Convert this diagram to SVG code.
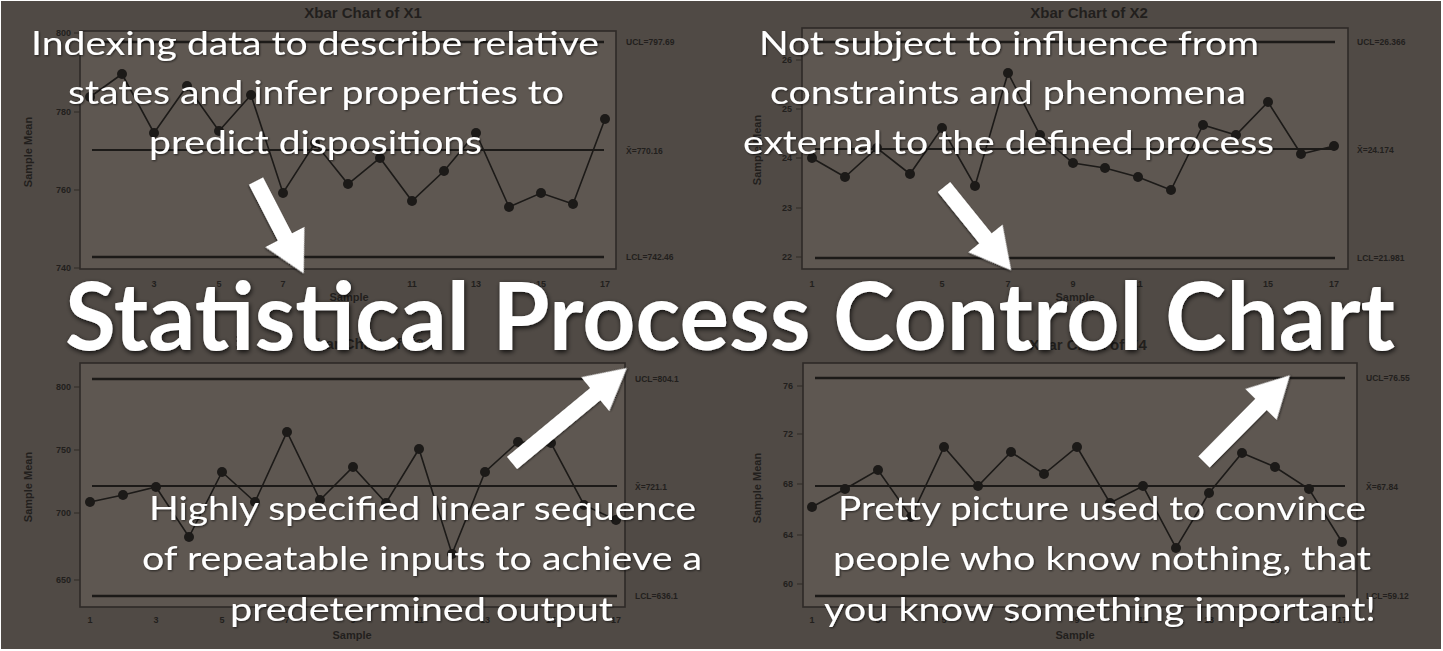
<svg xmlns="http://www.w3.org/2000/svg" width="1443" height="651" viewBox="0 0 1443 651">
<style>
.bg{fill:#504a45}
.plot{fill:#5e5751;stroke:#2e2a27;stroke-width:1.6}
.lim{stroke:#1c1a18;stroke-width:2.4;fill:none}
.data{stroke:#1c1a18;stroke-width:1.6;fill:none}
.pt{fill:#1c1a18}
.tick{stroke:#2e2a27;stroke-width:1.2}
.ct{font-family:"Liberation Sans",Arial,sans-serif;fill:#221f1d;font-weight:bold}
.ctitle{font-size:15px;text-anchor:middle}
.tl{font-size:9px;text-anchor:end}
.xl{font-size:9px;text-anchor:middle}
.rl{font-size:8.5px}
.al{font-size:11px;text-anchor:middle}
.sub{font-family:Lato,"Open Sans",sans-serif;font-size:33px;fill:#ffffff;filter:url(#sh)}
.main{font-family:Lato,"Open Sans",sans-serif;font-size:94px;font-weight:bold;fill:#ffffff;filter:url(#sh2)}
.arrow{fill:#ffffff;filter:url(#sh)}
</style>
<defs>
<filter id="sh" x="-10%" y="-20%" width="120%" height="140%">
<feGaussianBlur in="SourceAlpha" stdDeviation="1.2"/>
<feOffset dx="1" dy="1"/>
<feComponentTransfer><feFuncA type="linear" slope="0.6"/></feComponentTransfer>
<feMerge><feMergeNode/><feMergeNode in="SourceGraphic"/></feMerge>
</filter>
<filter id="sh2" x="-5%" y="-20%" width="110%" height="140%">
<feGaussianBlur in="SourceAlpha" stdDeviation="2.5"/>
<feOffset dx="1" dy="2"/>
<feComponentTransfer><feFuncA type="linear" slope="0.8"/></feComponentTransfer>
<feMerge><feMergeNode/><feMergeNode in="SourceGraphic"/></feMerge>
</filter>
</defs>
<rect x="0" y="0" width="1443" height="651" fill="#ffffff"/>
<rect class="bg" x="1" y="1" width="1440" height="648"/>

<g id="chart-x1">
<text class="ct ctitle" x="363" y="18">Xbar Chart of X1</text>
<rect class="plot" x="80" y="31" width="536" height="238"/>
<line class="lim" x1="92" y1="42" x2="604" y2="42"/>
<line class="lim" x1="92" y1="150" x2="604" y2="150" style="stroke-width:1.8"/>
<line class="lim" x1="92" y1="257" x2="604" y2="257"/>
<polyline class="data" points="90,97 122,74 154,133 187,86 219,131 251,95 283,193 315,143 348,184 380,158 412,201 444,171 476,133 509,207 541,193 573,204 605,119"/>
<g class="pt"><circle cx="90" cy="97" r="5"/><circle cx="122" cy="74" r="5"/><circle cx="154" cy="133" r="5"/><circle cx="187" cy="86" r="5"/><circle cx="219" cy="131" r="5"/><circle cx="251" cy="95" r="5"/><circle cx="283" cy="193" r="5"/><circle cx="315" cy="143" r="5"/><circle cx="348" cy="184" r="5"/><circle cx="380" cy="158" r="5"/><circle cx="412" cy="201" r="5"/><circle cx="444" cy="171" r="5"/><circle cx="476" cy="133" r="5"/><circle cx="509" cy="207" r="5"/><circle cx="541" cy="193" r="5"/><circle cx="573" cy="204" r="5"/><circle cx="605" cy="119" r="5"/></g>
<path class="tick" d="M74 33H80M74 112H80M74 190H80M74 268H80"/>
<text class="ct tl" x="71" y="36">800</text><text class="ct tl" x="71" y="115">780</text><text class="ct tl" x="71" y="193">760</text><text class="ct tl" x="71" y="271">740</text>
<text class="ct xl" y="287"><tspan x="90">1</tspan><tspan x="154">3</tspan><tspan x="219">5</tspan><tspan x="283">7</tspan><tspan x="348">9</tspan><tspan x="412">11</tspan><tspan x="476">13</tspan><tspan x="541">15</tspan><tspan x="605">17</tspan></text>
<text class="ct al" x="349" y="301">Sample</text>
<text class="ct al" transform="translate(32,152) rotate(-90)">Sample Mean</text>
<text class="ct rl" x="626" y="45">UCL=797.69</text><text class="ct rl" x="626" y="154">X̄=770.16</text><text class="ct rl" x="626" y="260">LCL=742.46</text>
</g>

<g id="chart-x2">
<text class="ct ctitle" x="1089" y="18">Xbar Chart of X2</text>
<rect class="plot" x="802" y="28" width="546" height="241"/>
<line class="lim" x1="815" y1="42" x2="1335" y2="42"/>
<line class="lim" x1="815" y1="149" x2="1335" y2="149" style="stroke-width:1.8"/>
<line class="lim" x1="815" y1="258" x2="1335" y2="258"/>
<polyline class="data" points="812,158 845,177 877,148 910,174 942,128 975,186 1008,73 1040,135 1073,163 1105,168 1138,177 1171,190 1203,125 1236,135 1268,102 1301,154 1334,146"/>
<g class="pt"><circle cx="812" cy="158" r="5"/><circle cx="845" cy="177" r="5"/><circle cx="877" cy="148" r="5"/><circle cx="910" cy="174" r="5"/><circle cx="942" cy="128" r="5"/><circle cx="975" cy="186" r="5"/><circle cx="1008" cy="73" r="5"/><circle cx="1040" cy="135" r="5"/><circle cx="1073" cy="163" r="5"/><circle cx="1105" cy="168" r="5"/><circle cx="1138" cy="177" r="5"/><circle cx="1171" cy="190" r="5"/><circle cx="1203" cy="125" r="5"/><circle cx="1236" cy="135" r="5"/><circle cx="1268" cy="102" r="5"/><circle cx="1301" cy="154" r="5"/><circle cx="1334" cy="146" r="5"/></g>
<path class="tick" d="M796 60H802M796 109H802M796 158H802M796 208H802M796 257H802"/>
<text class="ct tl" x="792" y="63">26</text><text class="ct tl" x="792" y="112">25</text><text class="ct tl" x="792" y="161">24</text><text class="ct tl" x="792" y="211">23</text><text class="ct tl" x="792" y="260">22</text>
<text class="ct xl" y="287"><tspan x="812">1</tspan><tspan x="877">3</tspan><tspan x="942">5</tspan><tspan x="1008">7</tspan><tspan x="1073">9</tspan><tspan x="1138">11</tspan><tspan x="1203">13</tspan><tspan x="1268">15</tspan><tspan x="1334">17</tspan></text>
<text class="ct al" x="1075" y="301">Sample</text>
<text class="ct al" transform="translate(761,150) rotate(-90)">Sample Mean</text>
<text class="ct rl" x="1357" y="45">UCL=26.366</text><text class="ct rl" x="1357" y="153">X̄=24.174</text><text class="ct rl" x="1357" y="261">LCL=21.981</text>
</g>

<g id="chart-x3">
<text class="ct ctitle" x="365" y="349">Xbar Chart of X3</text>
<rect class="plot" x="80" y="363" width="545" height="244"/>
<line class="lim" x1="92" y1="379" x2="617" y2="379"/>
<line class="lim" x1="92" y1="486" x2="617" y2="486" style="stroke-width:1.8"/>
<line class="lim" x1="92" y1="596" x2="617" y2="596"/>
<polyline class="data" points="90,502 123,495 156,487 189,537 222,472 255,502 287,432 320,500 353,467 386,503 419,449 452,554 485,472 518,442 551,443 584,505 616,520"/>
<g class="pt"><circle cx="90" cy="502" r="5"/><circle cx="123" cy="495" r="5"/><circle cx="156" cy="487" r="5"/><circle cx="189" cy="537" r="5"/><circle cx="222" cy="472" r="5"/><circle cx="255" cy="502" r="5"/><circle cx="287" cy="432" r="5"/><circle cx="320" cy="500" r="5"/><circle cx="353" cy="467" r="5"/><circle cx="386" cy="503" r="5"/><circle cx="419" cy="449" r="5"/><circle cx="452" cy="554" r="5"/><circle cx="485" cy="472" r="5"/><circle cx="518" cy="442" r="5"/><circle cx="551" cy="443" r="5"/><circle cx="584" cy="505" r="5"/><circle cx="616" cy="520" r="5"/></g>
<path class="tick" d="M74 387H80M74 450H80M74 513H80M74 580H80"/>
<text class="ct tl" x="71" y="390">800</text><text class="ct tl" x="71" y="453">750</text><text class="ct tl" x="71" y="516">700</text><text class="ct tl" x="71" y="583">650</text>
<text class="ct xl" y="623"><tspan x="90">1</tspan><tspan x="156">3</tspan><tspan x="222">5</tspan><tspan x="287">7</tspan><tspan x="353">9</tspan><tspan x="419">11</tspan><tspan x="485">13</tspan><tspan x="551">15</tspan><tspan x="616">17</tspan></text>
<text class="ct al" x="352" y="639">Sample</text>
<text class="ct al" transform="translate(32,487) rotate(-90)">Sample Mean</text>
<text class="ct rl" x="635" y="382">UCL=804.1</text><text class="ct rl" x="635" y="490">X̄=721.1</text><text class="ct rl" x="635" y="599">LCL=636.1</text>
</g>

<g id="chart-x4">
<text class="ct ctitle" x="1088" y="350">Xbar Chart of X4</text>
<rect class="plot" x="803" y="363" width="554" height="244"/>
<line class="lim" x1="815" y1="378" x2="1345" y2="378"/>
<line class="lim" x1="815" y1="486" x2="1345" y2="486" style="stroke-width:1.8"/>
<line class="lim" x1="815" y1="596" x2="1345" y2="596"/>
<polyline class="data" points="812,507 845,489 878,470 911,517 944,447 978,486 1011,452 1044,474 1077,447 1110,503 1143,486 1176,548 1209,493 1242,453 1275,467 1309,489 1342,542"/>
<g class="pt"><circle cx="812" cy="507" r="5"/><circle cx="845" cy="489" r="5"/><circle cx="878" cy="470" r="5"/><circle cx="911" cy="517" r="5"/><circle cx="944" cy="447" r="5"/><circle cx="978" cy="486" r="5"/><circle cx="1011" cy="452" r="5"/><circle cx="1044" cy="474" r="5"/><circle cx="1077" cy="447" r="5"/><circle cx="1110" cy="503" r="5"/><circle cx="1143" cy="486" r="5"/><circle cx="1176" cy="548" r="5"/><circle cx="1209" cy="493" r="5"/><circle cx="1242" cy="453" r="5"/><circle cx="1275" cy="467" r="5"/><circle cx="1309" cy="489" r="5"/><circle cx="1342" cy="542" r="5"/></g>
<path class="tick" d="M797 386H803M797 434H803M797 484H803M797 535H803M797 584H803"/>
<text class="ct tl" x="793" y="389">76</text><text class="ct tl" x="793" y="437">72</text><text class="ct tl" x="793" y="487">68</text><text class="ct tl" x="793" y="538">64</text><text class="ct tl" x="793" y="587">60</text>
<text class="ct xl" y="623"><tspan x="812">1</tspan><tspan x="878">3</tspan><tspan x="944">5</tspan><tspan x="1011">7</tspan><tspan x="1077">9</tspan><tspan x="1143">11</tspan><tspan x="1209">13</tspan><tspan x="1275">15</tspan><tspan x="1342">17</tspan></text>
<text class="ct al" x="1075" y="639">Sample</text>
<text class="ct al" transform="translate(761,488) rotate(-90)">Sample Mean</text>
<text class="ct rl" x="1366" y="381">UCL=76.55</text><text class="ct rl" x="1366" y="490">X̄=67.84</text><text class="ct rl" x="1366" y="599">LCL=59.12</text>
</g>

<g id="connectors">
<polygon class="arrow" transform="translate(256,181) rotate(62.7)" points="0,-8 63,-8 63,-22 104,0 63,22 63,8 0,8"/>
<polygon class="arrow" transform="translate(944,187) rotate(51.1)" points="0,-8 66,-8 66,-22 107,0 66,22 66,8 0,8"/>
<polygon class="arrow" transform="translate(512,463) rotate(-39.6)" points="0,-8 108,-8 108,-22 149,0 108,22 108,8 0,8"/>
<polygon class="arrow" transform="translate(1204,462) rotate(-45.3)" points="0,-8 81,-8 81,-22 122,0 81,22 81,8 0,8"/>
</g>

<g id="text-indexing">
<text class="sub" x="31" y="55" textLength="568" lengthAdjust="spacingAndGlyphs">Indexing data to describe relative</text>
<text class="sub" x="68" y="104" textLength="496" lengthAdjust="spacingAndGlyphs">states and infer properties to</text>
<text class="sub" x="149" y="154" textLength="333" lengthAdjust="spacingAndGlyphs">predict dispositions</text>
</g>
<g id="text-not-subject">
<text class="sub" x="759" y="55" textLength="500" lengthAdjust="spacingAndGlyphs">Not subject to influence from</text>
<text class="sub" x="770" y="104" textLength="476" lengthAdjust="spacingAndGlyphs">constraints and phenomena</text>
<text class="sub" x="743" y="154" textLength="531" lengthAdjust="spacingAndGlyphs">external to the defined process</text>
</g>
<g id="title">
<text class="main" x="65" y="350" textLength="1330" lengthAdjust="spacingAndGlyphs">Statistical Process Control Chart</text>
</g>
<g id="text-highly">
<text class="sub" x="149" y="520" textLength="547" lengthAdjust="spacingAndGlyphs">Highly specified linear sequence</text>
<text class="sub" x="142" y="570" textLength="560" lengthAdjust="spacingAndGlyphs">of repeatable inputs to achieve a</text>
<text class="sub" x="230" y="621" textLength="383" lengthAdjust="spacingAndGlyphs">predetermined output</text>
</g>
<g id="text-pretty">
<text class="sub" x="838" y="520" textLength="528" lengthAdjust="spacingAndGlyphs">Pretty picture used to convince</text>
<text class="sub" x="833" y="570" textLength="538" lengthAdjust="spacingAndGlyphs">people who know nothing, that</text>
<text class="sub" x="824" y="621" textLength="552" lengthAdjust="spacingAndGlyphs">you know something important!</text>
</g>
</svg>
